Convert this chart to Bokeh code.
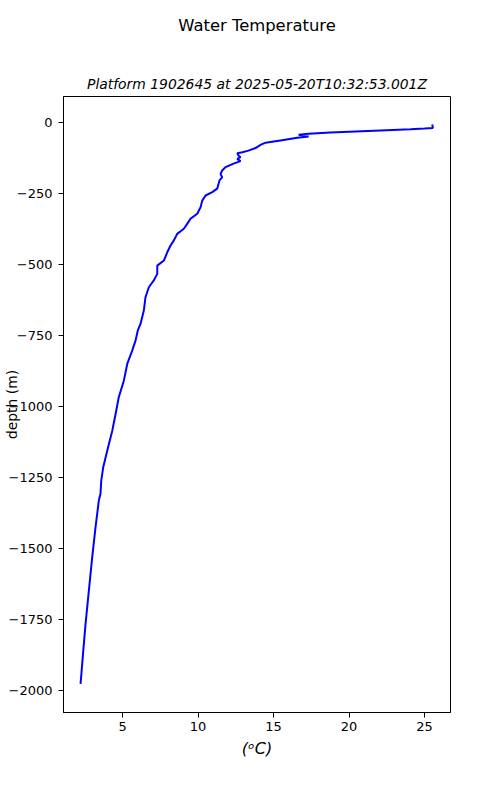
from bokeh.plotting import figure
from bokeh.models import Range1d, FixedTicker, Title, LinearAxis
from bokeh.embed import file_html
from bokeh.resources import INLINE

# Temperature profile (deg C) against depth (m)
temperature = [25.51, 25.55, 25.00, 24.07, 22.09, 18.77, 17.32, 16.66, 17.32, 16.57,
               15.46, 14.47, 14.14, 13.81, 13.34, 12.93, 12.60, 12.68, 12.81, 12.60,
               12.81, 12.35, 11.82, 11.60, 11.49, 11.60, 11.42, 11.27, 10.94, 10.50,
               10.28, 10.17, 9.95, 9.50, 9.28, 9.06, 8.62, 8.40, 8.18, 7.96,
               7.74, 7.30, 7.30, 7.07, 6.74, 6.52, 6.41, 6.19, 6.01, 5.86,
               5.64, 5.31, 5.09, 4.75, 4.54, 4.32, 3.99, 3.72, 3.59, 3.54,
               3.43, 3.21, 2.99, 2.77, 2.55, 2.40, 2.22]
depth = [-7, -19, -21, -24, -28, -35, -40, -43, -49, -54,
         -63, -71, -79, -90, -99, -105, -108, -116, -122, -128,
         -136, -145, -157, -169, -181, -193, -204, -233, -245, -257,
         -275, -298, -321, -339, -357, -374, -392, -415, -433, -457,
         -486, -504, -533, -556, -580, -615, -662, -709, -732, -768,
         -803, -850, -908, -967, -1026, -1085, -1155, -1214, -1261, -1307,
         -1331, -1425, -1531, -1648, -1765, -1859, -1976]

x_ticks = [5, 10, 15, 20, 25]
y_ticks = [0, -250, -500, -750, -1000, -1250, -1500, -1750, -2000]
y_tick_labels = ["0", "\u2212250", "\u2212500", "\u2212750", "\u22121000",
                 "\u22121250", "\u22121500", "\u22121750", "\u22122000"]

title_text = "Water Temperature"
subtitle_text = "Platform 1902645 at 2025-05-20T10:32:53.001Z"
x_label = "(\u1d52C)"
y_label = "depth (m)"

FONT = "DejaVu Sans"

p = figure(width=484, height=784, output_backend="svg", toolbar_location=None,
           x_range=Range1d(1.09, 26.72), y_range=Range1d(-2077, 91.5),
           min_border_left=63, min_border_right=34, min_border_top=96,
           min_border_bottom=72, title=None)
p.background_fill_color = "white"
p.border_fill_color = "white"
p.outline_line_color = "black"
p.outline_line_width = 1
p.outline_line_alpha = 1
p.grid.visible = False

p.line(temperature, depth, line_color="blue", line_width=2)

for ax in (p.xaxis[0], p.yaxis[0]):
    ax.major_tick_out = 5
    ax.major_tick_in = 0
    ax.minor_tick_out = 0
    ax.minor_tick_in = 0
    ax.major_tick_line_color = "black"
    ax.axis_line_color = "black"
    ax.major_label_text_font = FONT
    ax.major_label_text_font_size = "13px"
    ax.major_label_text_color = "black"

p.xaxis.ticker = FixedTicker(ticks=x_ticks)
p.yaxis.ticker = FixedTicker(ticks=y_ticks)
p.yaxis.major_label_overrides = {t: l for t, l in zip(y_ticks, y_tick_labels)}
p.xaxis.major_label_standoff = 4
p.yaxis.major_label_standoff = 6

p.xaxis.axis_label = x_label
p.xaxis.axis_label_text_font = FONT
p.xaxis.axis_label_text_font_size = "16px"
p.xaxis.axis_label_text_font_style = "italic"
p.xaxis.axis_label_text_color = "black"
p.xaxis.axis_label_standoff = 5

p.yaxis.axis_label = y_label
p.yaxis.axis_label_text_font = FONT
p.yaxis.axis_label_text_font_size = "13.9px"
p.yaxis.axis_label_text_font_style = "normal"
p.yaxis.axis_label_text_color = "black"
p.yaxis.axis_label_standoff = -14

# subtitle (nearest the frame)
sub = Title(text=subtitle_text, align="center", text_font=FONT,
            text_font_size="13.9px", text_font_style="italic",
            text_color="black", standoff=10)
p.add_layout(sub, "above")

# main title, carried by a tick-less axis above the subtitle
top_axis = LinearAxis(ticker=FixedTicker(ticks=[]), axis_label=title_text,
                      axis_label_standoff=34, axis_label_text_font=FONT,
                      axis_label_text_font_size="16.4px",
                      axis_label_text_font_style="normal",
                      axis_label_text_color="black",
                      major_tick_out=0, major_tick_in=0, minor_tick_out=0,
                      minor_tick_in=0, axis_line_color=None,
                      major_label_text_font_size="0px")
p.add_layout(top_axis, "above")

open("out.html", "w").write(file_html(p, INLINE))
